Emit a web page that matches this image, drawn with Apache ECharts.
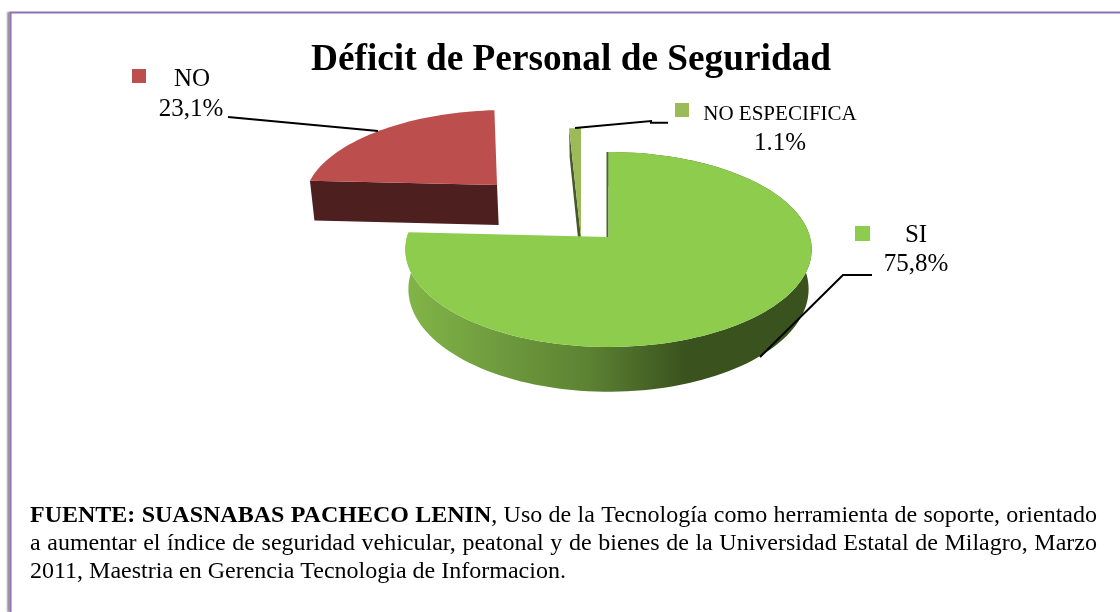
<!DOCTYPE html>
<html>
<head>
<meta charset="utf-8">
<title>Déficit de Personal de Seguridad</title>
<style>
html, body { margin: 0; padding: 0; background: #fff; }
#chartmain { width: 1120px; height: 612px; }
</style>
<script src="https://cdn.jsdelivr.net/npm/echarts@6/dist/echarts.min.js"></script>
</head>
<body>
<div id="chartmain"></div>
<script>
// datos del grafico (orden horario desde las 12)
var categories = ['SI', 'NO', 'NO ESPECIFICA'];
var values = [75.8, 23.1, 1.1];
var valueLabels = ['75,8%', '23,1%', '1.1%'];
var titleText = 'Déficit de Personal de Seguridad';

var footerLines = [
    [['FUENTE:', 1], ['SUASNABAS', 1], ['PACHECO', 1], ['LENIN', 1, 'glue'], [',', 0], ['Uso', 0], ['de', 0], ['la', 0], ['Tecnología', 0], ['como', 0], ['herramienta', 0], ['de', 0], ['soporte,', 0], ['orientado', 0]],
    [['a', 0], ['aumentar', 0], ['el', 0], ['índice', 0], ['de', 0], ['seguridad', 0], ['vehicular,', 0], ['peatonal', 0], ['y', 0], ['de', 0], ['bienes', 0], ['de', 0], ['la', 0], ['Universidad', 0], ['Estatal', 0], ['de', 0], ['Milagro,', 0], ['Marzo', 0]],
    [['2011,', 0], ['Maestria', 0], ['en', 0], ['Gerencia', 0], ['Tecnologia', 0], ['de', 0], ['Informacion.', 0]]
];

var FONT = '"Liberation Serif", "Times New Roman", serif';
var K = 0.128; // perspectiva del disco
var VANISH_X = 608;
var BOTTOM_SCALE = 0.985;

// geometria de cada porcion (el angulo sale siempre de values)
var sliceLayout = [
    { cx: 608.5, cy: 237, R: 201.5, A: 95.9, depth: 39, shear: 0, z: 30, top: '#8ecc4e', wall: '#4a6626', wallDx: -2, wallDepth: 0, outer: true },
    { cx: 497, cy: 185, R: 189, A: 84.6, depth: 40, shear: -0.12, z: 10, top: '#bc4f4d', wall: '#4d1f1e', wallDx: 0, wallDepth: 40 },
    { cx: 581, cy: 238, R: 194, A: 124, depth: 33, shear: 0, z: 20, top: '#9bbb59', wall: '#46592a', wallDx: 0, wallDepth: 33 }
];
var labelLayout = [
    { sq: [855, 226, 15], name: [916, 235], nameSize: 25, val: [916, 264], leader: [[760, 357], [843, 275], [872, 275]] },
    { sq: [132, 69, 14], name: [192, 79], nameSize: 25, val: [191, 109], leader: [[228, 117], [378, 131]] },
    { sq: [675, 103, 14], name: [780, 114], nameSize: 21, val: [780, 143], leader: [[575, 128], [651, 121], [651, 122.7], [668, 122.7]] }
];

function project(l, deg, bottom, r) {
    var a = deg * Math.PI / 180;
    var rad = r === undefined ? 1 : r;
    var u = Math.sin(a) * rad;
    var v = -Math.cos(a) * rad;
    var w = 1 - K * v;
    var x = l.cx + l.R * u / w;
    var y = l.cy + l.A * v / w;
    x += l.shear * (y - l.cy);
    if (bottom) {
        y += l.depth / w;
        x = VANISH_X + (x - VANISH_X) * BOTTOM_SCALE;
    }
    return [x, y];
}

function rim(l, from, to, bottom) {
    var pts = [];
    var n = Math.max(4, Math.ceil((to - from) / 2));
    for (var i = 0; i <= n; i++) {
        pts.push(project(l, from + (to - from) * i / n, bottom));
    }
    return pts;
}

function poly(points, fill, z) {
    return { type: 'polygon', shape: { points: points }, style: { fill: fill }, z2: z };
}

function textEl(str, pos, size, z) {
    return {
        type: 'text', z2: z,
        style: { text: str, x: pos[0], y: pos[1], align: 'center', verticalAlign: 'middle', font: size + 'px ' + FONT, fill: '#000' }
    };
}

function renderSlice(params, api) {
    var i = params.dataIndex;
    var total = values.reduce(function (s, v) { return s + v; }, 0);
    var before = values.slice(0, i).reduce(function (s, v) { return s + v; }, 0);
    var from = before / total * 360;
    var to = from + api.value(0) / total * 360;
    var l = sliceLayout[i];
    var t = labelLayout[i];
    var kids = [];

    // pared exterior con degradado
    if (l.outer) {
        kids.push(poly(rim(l, from, to, false).concat(rim(l, from, to, true).reverse()),
            new echarts.graphic.LinearGradient(0, 0, 1, 0, [
                { offset: 0, color: '#82b548' },
                { offset: 0.45, color: '#5c8233' },
                { offset: 0.69, color: '#3a521e' },
                { offset: 1, color: '#3a521e' }
            ]), l.z));
    }

    // cara del corte
    var p0 = project(l, from, false);
    var apex = [l.cx, l.cy];
    var p0b = l.wallDepth ? project(l, from, true) : [p0[0] + l.wallDx, p0[1]];
    var apexB = l.wallDepth ? [VANISH_X + (l.cx - VANISH_X) * BOTTOM_SCALE, l.cy + l.depth / 1] : [l.cx + l.wallDx, l.cy];
    kids.push(poly([p0, apex, apexB, p0b], l.wall, l.z));

    // cara superior
    kids.push(poly([apex].concat(rim(l, from, to, false)), l.top, l.z + 1));

    // leyenda, valor y linea guia
    kids.push({
        type: 'rect', z2: 50,
        shape: { x: t.sq[0], y: t.sq[1], width: t.sq[2], height: t.sq[2] },
        style: { fill: l.top }
    });
    kids.push(textEl(categories[i], t.name, t.nameSize, 50));
    kids.push(textEl(valueLabels[i], t.val, 25, 50));
    kids.push({
        type: 'polyline', z2: 60,
        shape: { points: t.leader },
        style: { stroke: '#000', lineWidth: 2, fill: null }
    });
    return { type: 'group', children: kids };
}

function footerGraphics() {
    var ctx = document.createElement('canvas').getContext('2d');
    var size = 24, left = 30, right = 1097, els = [];
    var lineY = [517, 545, 573];
    footerLines.forEach(function (words, li) {
        var widths = words.map(function (w) {
            ctx.font = (w[1] ? 'bold ' : '') + size + 'px ' + FONT;
            return ctx.measureText(w[0]).width;
        });
        var gaps = words.filter(function (w, i) { return i < words.length - 1 && w[2] !== 'glue'; }).length;
        var sum = widths.reduce(function (s, v) { return s + v; }, 0);
        var gap = li === footerLines.length - 1 ? size * 0.25 : (right - left - sum) / gaps;
        var x = left;
        words.forEach(function (w, i) {
            els.push({
                type: 'text', left: x, top: lineY[li] - size / 2 - 1,
                style: { text: w[0], font: (w[1] ? 'bold ' : '') + size + 'px ' + FONT, fill: '#000' }
            });
            x += widths[i] + (w[2] === 'glue' ? 0 : gap);
        });
    });
    return els;
}

var chart = echarts.init(document.getElementById('chartmain'), null, { renderer: 'canvas' });
chart.setOption({
    animation: false,
    backgroundColor: '#fff',
    title: {
        text: titleText, left: 306, top: 37,
        textStyle: { fontFamily: FONT, fontSize: 37.3, fontWeight: 'bold', color: '#000' }
    },
    graphic: [
        // marco morado, con sombra solo a la izquierda
        {
            type: 'line', silent: true, z: 1,
            shape: { x1: 10.5, y1: 612, x2: 10.5, y2: 12 },
            style: { stroke: '#8c6fb5', lineWidth: 2, shadowColor: 'rgba(0,0,0,0.6)', shadowBlur: 2, shadowOffsetX: -2, shadowOffsetY: 0 }
        },
        {
            type: 'line', silent: true, z: 2,
            shape: { x1: 9.5, y1: 12.5, x2: 1120, y2: 12.5 },
            style: { stroke: '#8c6fb5', lineWidth: 2 }
        }
    ].concat(footerGraphics()),
    series: [{
        type: 'custom',
        coordinateSystem: 'none',
        silent: true,
        renderItem: renderSlice,
        encode: { value: 0 },
        data: values.map(function (v, i) { return [v, i]; })
    }]
});
</script>
</body>
</html>
